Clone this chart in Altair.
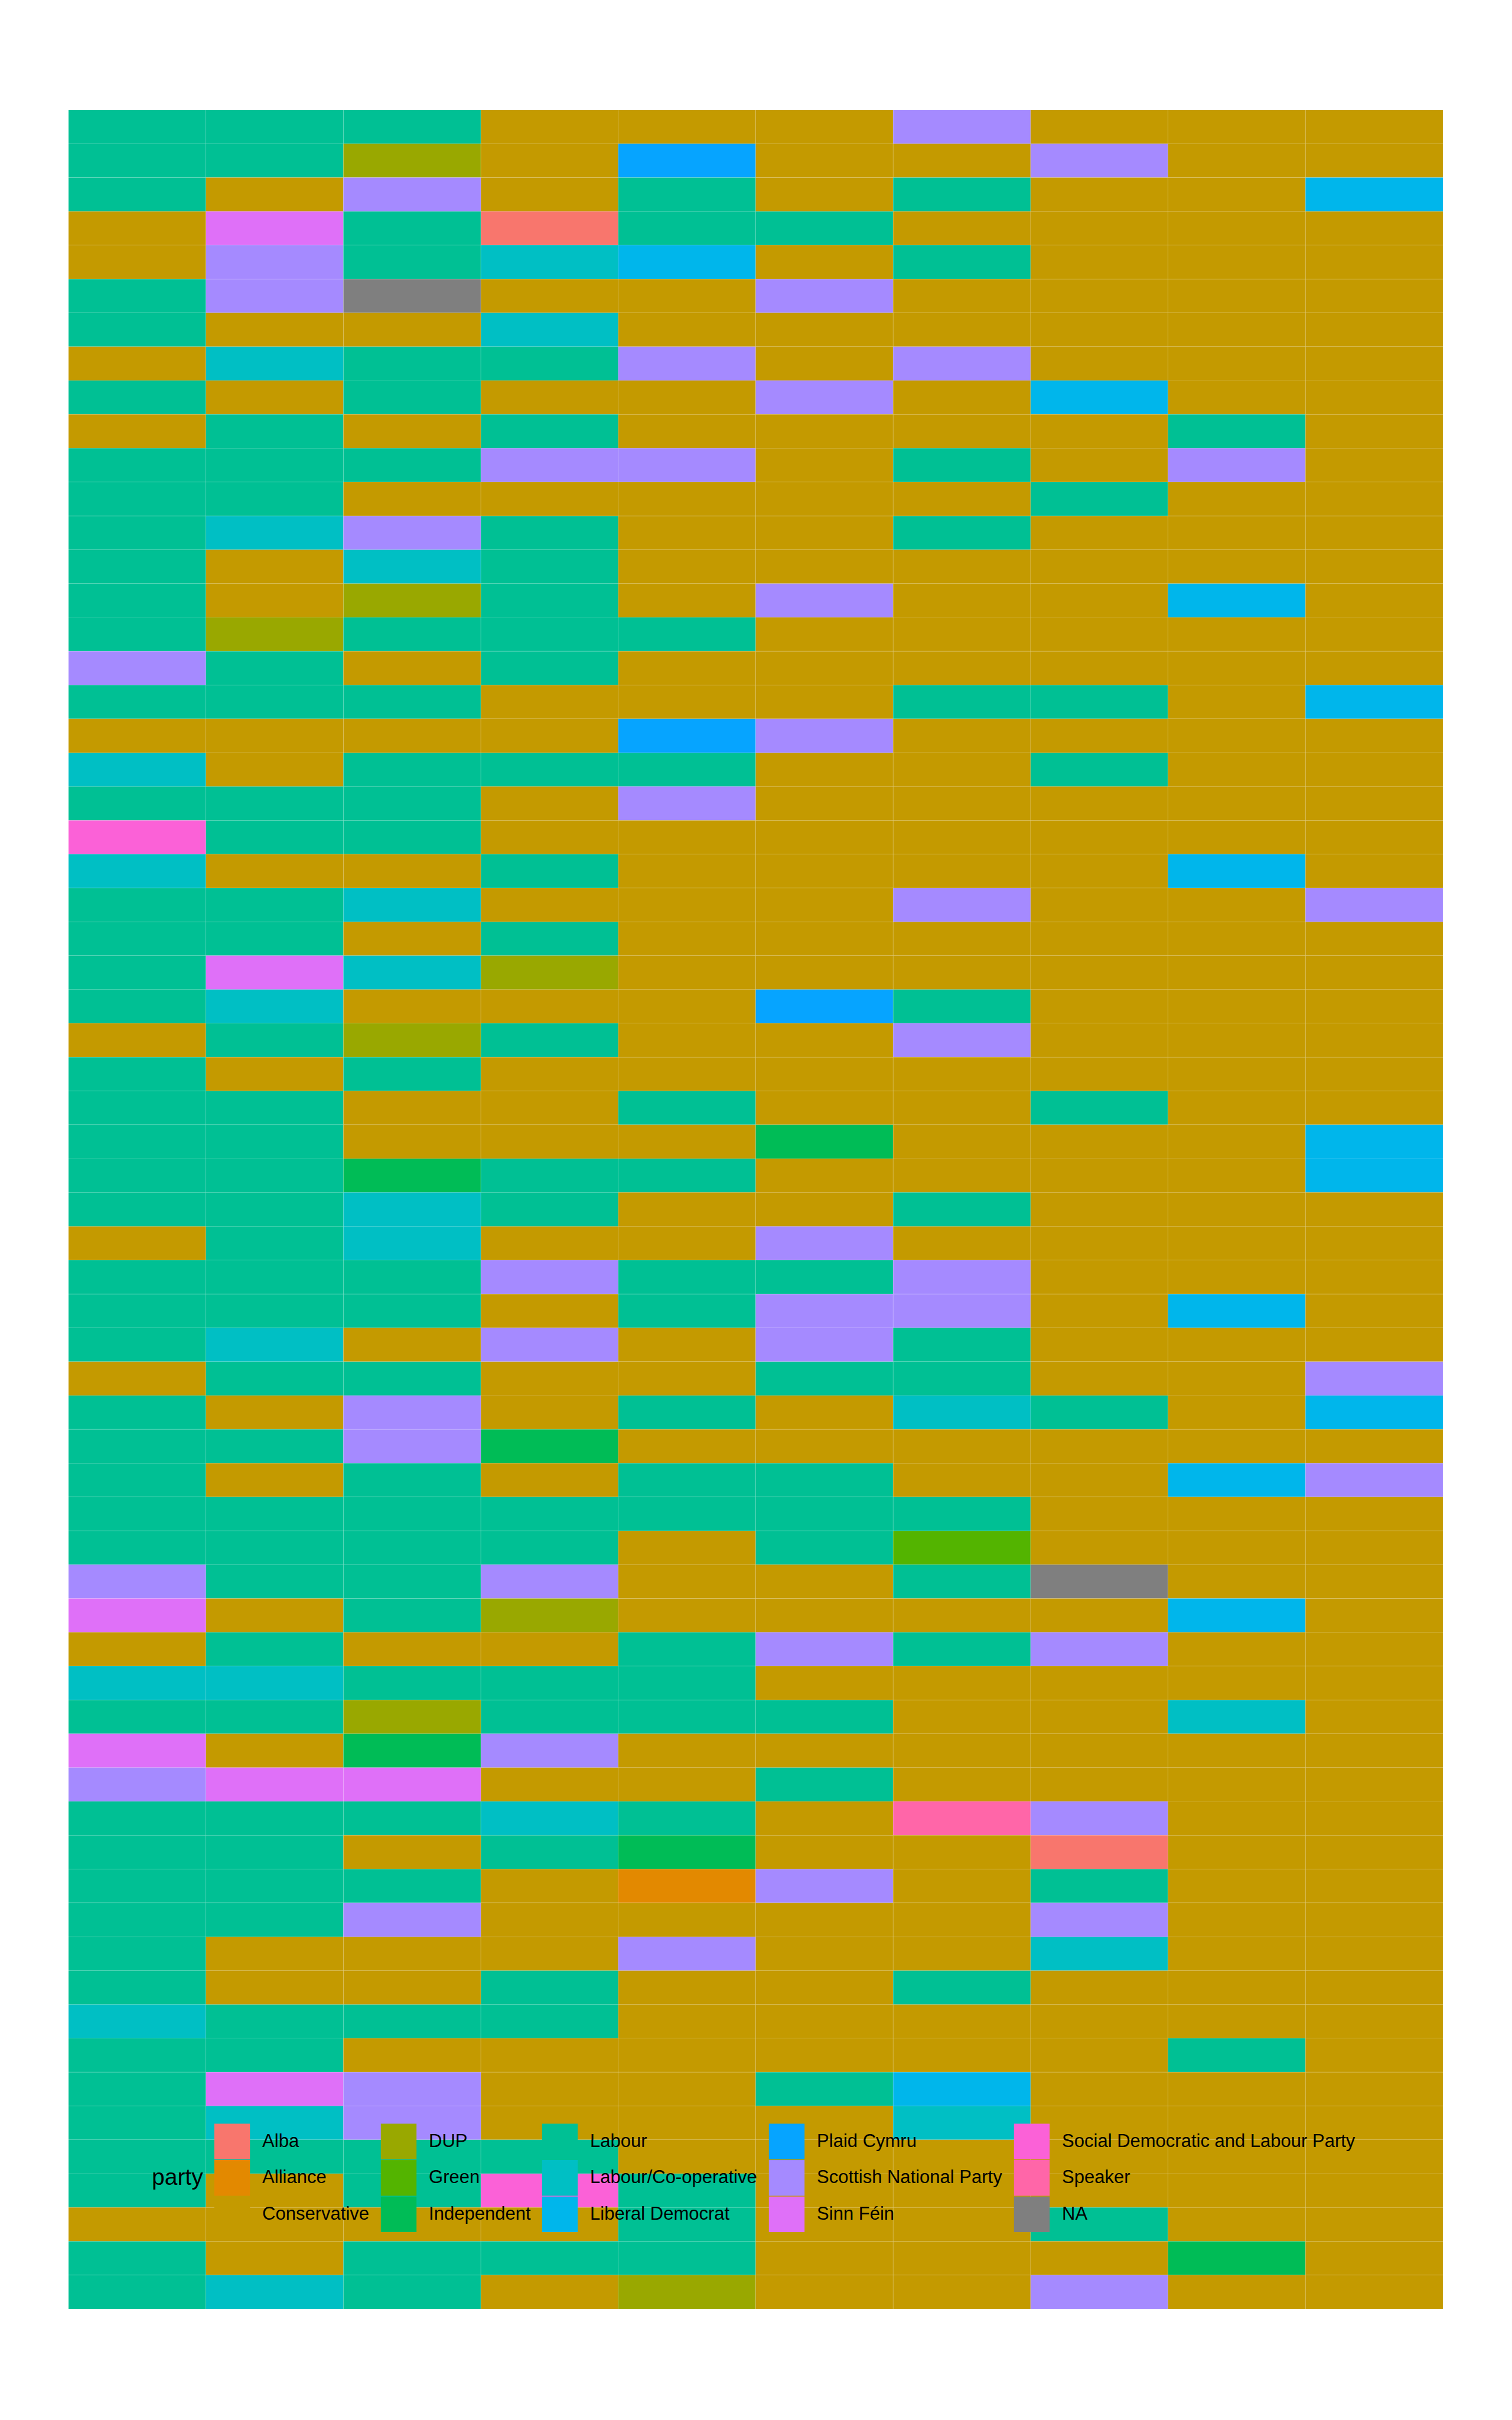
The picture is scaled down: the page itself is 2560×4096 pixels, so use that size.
import altair as alt
import pandas as pd

# party codes used in the seat grid
CODE_NAMES = {
    "A": "Alba",
    "AL": "Alliance",
    "C": "Conservative",
    "D": "DUP",
    "G": "Green",
    "I": "Independent",
    "L": "Labour",
    "LC": "Labour/Co-operative",
    "LD": "Liberal Democrat",
    "P": "Plaid Cymru",
    "S": "Scottish National Party",
    "SF": "Sinn Féin",
    "SD": "Social Democratic and Labour Party",
    "SP": "Speaker",
    "NA": "NA",
}

# 65 rows x 10 columns, top row first
ROWS = [
    "L L L C C C S C C C",
    "L L D C P C C S C C",
    "L C S C L C L C C LD",
    "C SF L A L L C C C C",
    "C S L LC LD C L C C C",
    "L S NA C C S C C C C",
    "L C C LC C C C C C C",
    "C LC L L S C S C C C",
    "L C L C C S C LD C C",
    "C L C L C C C C L C",
    "L L L S S C L C S C",
    "L L C C C C C L C C",
    "L LC S L C C L C C C",
    "L C LC L C C C C C C",
    "L C D L C S C C LD C",
    "L D L L L C C C C C",
    "S L C L C C C C C C",
    "L L L C C C L L C LD",
    "C C C C P S C C C C",
    "LC C L L L C C L C C",
    "L L L C S C C C C C",
    "SD L L C C C C C C C",
    "LC C C L C C C C LD C",
    "L L LC C C C S C C S",
    "L L C L C C C C C C",
    "L SF LC D C C C C C C",
    "L LC C C C P L C C C",
    "C L D L C C S C C C",
    "L C L C C C C C C C",
    "L L C C L C C L C C",
    "L L C C C I C C C LD",
    "L L I L L C C C C LD",
    "L L LC L C C L C C C",
    "C L LC C C S C C C C",
    "L L L S L L S C C C",
    "L L L C L S S C LD C",
    "L LC C S C S L C C C",
    "C L L C C L L C C S",
    "L C S C L C LC L C LD",
    "L L S I C C C C C C",
    "L C L C L L C C LD S",
    "L L L L L L L C C C",
    "L L L L C L G C C C",
    "S L L S C C L NA C C",
    "SF C L D C C C C LD C",
    "C L C C L S L S C C",
    "LC LC L L L C C C C C",
    "L L D L L L C C LC C",
    "SF C I S C C C C C C",
    "S SF SF C C L C C C C",
    "L L L LC L C SP S C C",
    "L L C L I C C A C C",
    "L L L C AL S C L C C",
    "L L S C C C C S C C",
    "L C C C S C C LC C C",
    "L C C L C C L C C C",
    "LC L L L C C C C C C",
    "L L C C C C C C L C",
    "L SF S C C L LD C C C",
    "L LC S C C C LC C C C",
    "L L L L C C C C C C",
    "L C L SD L C C C C C",
    "C C C C L C C L C C",
    "L C L L L C C C I C",
    "L LC L C D C C S C C",
]

# legend order (row-major so that the 5-column legend reads column-wise)
LEGEND_ORDER = [
    "Alba", "DUP", "Labour", "Plaid Cymru", "Social Democratic and Labour Party",
    "Alliance", "Green", "Labour/Co-operative", "Scottish National Party", "Speaker",
    "Conservative", "Independent", "Liberal Democrat", "Sinn Féin", "NA",
]
LEGEND_COLOURS = [
    "#F8766D", "#99A800", "#00C094", "#06A4FF", "#FB61D7",
    "#E38900", "#53B400", "#00BFC4", "#A58AFF", "#FF66A8",
    "#C49A00", "#00BC56", "#00B6EB", "#DF70F8", "#7F7F7F",
]

records = []
for r, line in enumerate(ROWS):
    for c, code in enumerate(line.split()):
        records.append({"row": r, "col": c, "party": CODE_NAMES[code]})
df = pd.DataFrame(records)

legend = alt.Legend(
    orient="none",
    legendX=141,
    legendY=3408,
    direction="horizontal",
    columns=5,
    gridAlign="each",
    title="party",
    titleOrient="left",
    titleAnchor="middle",
    titleBaseline="middle",
    titleFontSize=39,
    titleFontWeight="normal",
    titleFont="Liberation Sans",
    titleColor="black",
    titlePadding=18.5,
    labelFontSize=31,
    labelFont="Liberation Sans",
    labelColor="black",
    labelOffset=20.6,
    labelLimit=1200,
    symbolType="square",
    symbolSize=3648,
    symbolStrokeWidth=0,
    symbolOpacity=1,
    columnPadding=19,
    rowPadding=0.7,
    padding=0,
)

chart = (
    alt.Chart(df)
    .mark_rect(stroke="white", strokeWidth=0.5, strokeOpacity=0.25)
    .encode(
        x=alt.X("col:O", axis=None, scale=alt.Scale(paddingInner=0, paddingOuter=0)),
        y=alt.Y("row:O", axis=None, scale=alt.Scale(paddingInner=0, paddingOuter=0)),
        color=alt.Color(
            "party:N",
            scale=alt.Scale(domain=LEGEND_ORDER, range=LEGEND_COLOURS),
            legend=legend,
        ),
    )
    .properties(
        width=2327,
        height=3722,
        autosize=alt.AutoSizeParams(type="none"),
        padding={"left": 116, "top": 186, "right": 117, "bottom": 188},
        background="white",
    )
    .configure_view(strokeWidth=0)
)

chart.save("out.html", embed_options={"renderer": "svg", "actions": False})
